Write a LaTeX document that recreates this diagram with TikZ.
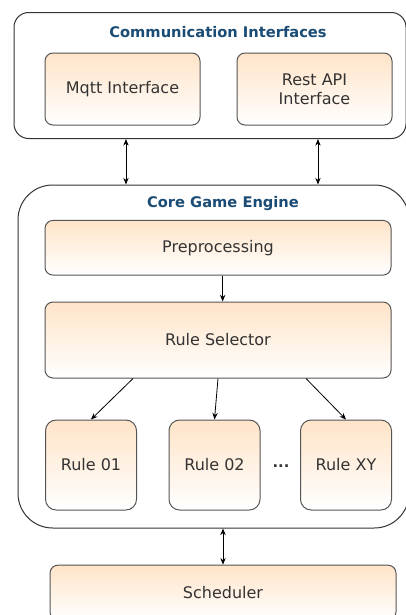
\documentclass[tikz,border=0pt]{standalone}
\usepackage{fontspec}
\setmainfont{DejaVu Sans}
\usetikzlibrary{arrows.meta}
\definecolor{boxtop}{RGB}{255,228,200}
\definecolor{boxline}{RGB}{85,85,85}
\definecolor{titleblue}{RGB}{26,76,117}
\definecolor{boxtext}{RGB}{51,51,51}
\tikzset{every picture/.style={line width=0.75pt}}
\tikzset{
  compbox/.style={draw=boxline, rounded corners=6pt, top color=boxtop, bottom color=white,
    text=boxtext, font=\fontsize{12}{14}\selectfont, align=center, inner sep=0pt},
  groupbox/.style={draw=black!80, fill=white, inner sep=0pt},
  grouptitle/.style={text=titleblue, font=\bfseries\fontsize{11}{13}\selectfont, inner sep=0pt},
  link/.style={-{Stealth[length=5pt,width=4pt]}, line width=0.6pt},
  duplex/.style={{Stealth[length=5pt,width=4pt]}-{Stealth[length=5pt,width=4pt]}, line width=0.6pt}
}

\begin{document}
\begin{tikzpicture}[x=0.75pt,y=0.75pt,yscale=-1,xscale=1]
\useasboundingbox (0,0) rectangle (406,615);
\clip (0,0) rectangle (406,615);

%Group: Communication Interfaces
\node [groupbox, rounded corners=11pt, minimum width=294pt, minimum height=94.5pt] (comm) at (210,75.5) {};
\node [grouptitle] (commtitle) at (218,32) {Communication Interfaces};
\node [compbox, minimum width=116.25pt, minimum height=54pt] (mqtt) at (122.5,89) {Mqtt Interface};
\node [compbox, minimum width=116.25pt, minimum height=54pt] (rest) at (314.5,89) {Rest API\\Interface};

%Group: Core Game Engine
\node [groupbox, rounded corners=26pt, minimum width=293.25pt, minimum height=257.25pt] (core) at (213.5,356.5) {};
\node [grouptitle] (coretitle) at (223,204) {Core Game Engine};
\node [compbox, minimum width=259.5pt, minimum height=41pt] (pre) at (218,247.75) {Preprocessing};
\node [compbox, minimum width=259.5pt, minimum height=57pt] (sel) at (218,340) {Rule Selector};
\node [compbox, rounded corners=8pt, minimum width=68.25pt, minimum height=67.5pt] (rule01) at (91,465) {Rule 01};
\node [compbox, rounded corners=8pt, minimum width=68.25pt, minimum height=67.5pt] (rule02) at (214.5,465) {Rule 02};
\node [compbox, rounded corners=8pt, minimum width=68.25pt, minimum height=67.5pt] (rulexy) at (346,465) {Rule XY};
\node [text=boxtext, font=\bfseries\fontsize{11}{13}\selectfont, inner sep=0pt] (dots) at (281,466) {...};

%Scheduler
\node [compbox, minimum width=259.5pt, minimum height=41pt] (sched) at (223,592.5) {Scheduler};

%Connectors
\draw [duplex] ([xshift=2.6pt]mqtt.center |- comm.south) -- ([xshift=2.6pt]mqtt.center |- core.north);
\draw [duplex] ([xshift=2.6pt]rest.center |- comm.south) -- ([xshift=2.6pt]rest.center |- core.north);
\draw [link] ([xshift=3.5pt]pre.south) -- ([xshift=3.5pt]sel.north);
\draw [link] ([xshift=-63.75pt]sel.south) -- (rule01.north);
\draw [link] (sel.south) -- (rule02.north);
\draw [link] ([xshift=66pt]sel.south) -- (rulexy.north);
\draw [duplex] (sched.north |- core.south) -- (sched.north);

\end{tikzpicture}
\end{document}
